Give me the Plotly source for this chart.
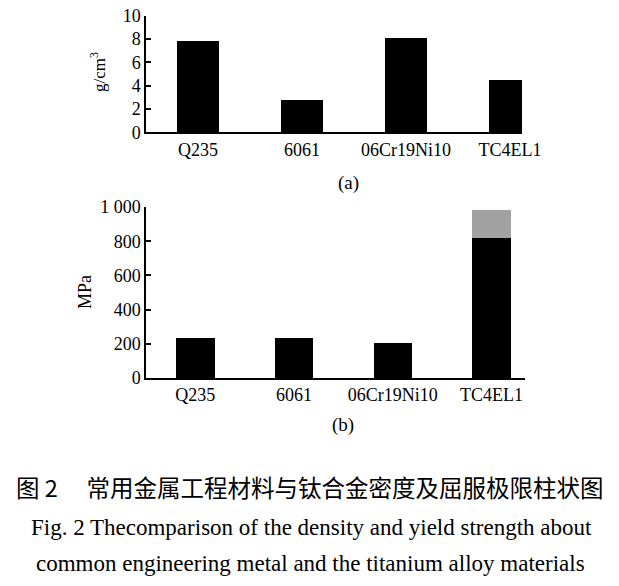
import plotly.graph_objects as go

materials = ["Q235", "6061", "06Cr19Ni10", "TC4EL1"]
density = [7.82, 2.8, 8.05, 4.52]          # g/cm3
yield_black = [235, 235, 205, 820]          # MPa
yield_gray = [None, None, None, 160]        # MPa, extra range on top (TC4EL1)
density_ticks = [0, 2, 4, 6, 8, 10]
yield_ticks = [0, 200, 400, 600, 800, 1000]
yield_ticktext = ["0", "200", "400", "600", "800", "1 000"]

W, H = 619, 586
SERIF = "Liberation Serif"

fig = go.Figure()
fig.add_trace(go.Bar(x=materials, y=density, marker=dict(color="black", line=dict(width=0)),
                     width=0.41, xaxis="x", yaxis="y", showlegend=False))
fig.add_trace(go.Bar(x=materials, y=yield_black, marker=dict(color="black", line=dict(width=0)),
                     width=0.39, xaxis="x2", yaxis="y2", showlegend=False))
fig.add_trace(go.Bar(x=materials, y=yield_gray, marker=dict(color="#a2a2a2", line=dict(width=0)),
                     width=0.39, xaxis="x2", yaxis="y2", showlegend=False))

def px_x(p):
    return p / W

def px_y(p):
    return (H - p) / H

axis_common = dict(showline=True, linecolor="black", linewidth=1.5, showgrid=False,
                   zeroline=False, tickfont=dict(family=SERIF, size=18, color="black"))

fig.update_layout(
    width=W, height=H, barmode="stack",
    margin=dict(l=0, r=0, t=0, b=0, pad=0, autoexpand=False),
    paper_bgcolor="white", plot_bgcolor="white",
    xaxis=dict(domain=[px_x(146), px_x(522)], range=[-0.5, 3.115], anchor="y",
               ticks="", automargin=False, **axis_common),
    yaxis=dict(domain=[px_y(132.3), px_y(15.5)], range=[0, 10], anchor="x",
               tickvals=density_ticks, ticks="inside", ticklen=5, tickwidth=1.5,
               tickcolor="black", automargin=False, **axis_common),
    xaxis2=dict(domain=[px_x(146), px_x(525)], range=[-0.5, 3.34], anchor="y2",
                ticks="", automargin=False, **axis_common),
    yaxis2=dict(domain=[px_y(378), px_y(207)], range=[0, 1000], anchor="x2",
                tickvals=yield_ticks, ticktext=yield_ticktext, ticks="inside", ticklen=5,
                tickwidth=1.5, tickcolor="black", automargin=False, **axis_common),
)

ann = [
    dict(text="g/cm<sup>3</sup>", x=px_x(98), y=px_y(72), textangle=-90,
         font=dict(family=SERIF, size=17, color="black")),
    dict(text="MPa", x=px_x(85), y=px_y(292), textangle=-90,
         font=dict(family=SERIF, size=18, color="black")),
    dict(text="(a)", x=px_x(348), y=px_y(183), font=dict(family=SERIF, size=19, color="black")),
    dict(text="(b)", x=px_x(343), y=px_y(425), font=dict(family=SERIF, size=19, color="black")),
    dict(text="图 2　 常用金属工程材料与钛合金密度及屈服极限柱状图", x=px_x(310), y=px_y(487),
         font=dict(family="Noto Sans CJK SC", size=23.5, color="black")),
    dict(text="Fig. 2 Thecomparison of the density and yield strength about", x=px_x(311), y=px_y(527),
         font=dict(family=SERIF, size=23, color="black")),
    dict(text="common engineering metal and the titanium alloy materials", x=px_x(310), y=px_y(563),
         font=dict(family=SERIF, size=23, color="black")),
]
for a in ann:
    a.update(xref="paper", yref="paper", showarrow=False, xanchor="center", yanchor="middle")
fig.update_layout(annotations=ann)

fig.write_html("out.html", config={"displayModeBar": False},
               post_script="document.body.style.margin='0';")
